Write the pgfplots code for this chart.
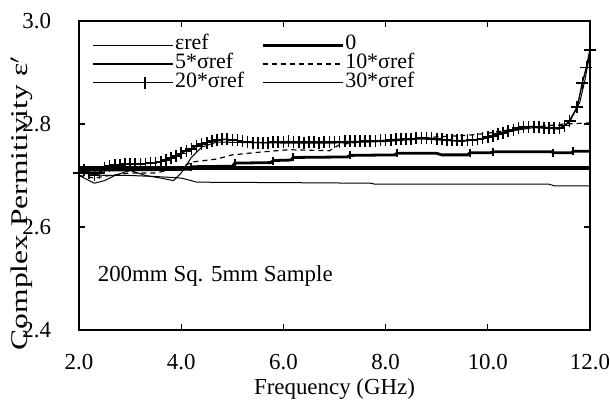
\documentclass[border=0pt]{standalone}
\usepackage{fontspec}
\setmainfont{Liberation Serif}
\usepackage{pgfplots}
\pgfplotsset{compat=1.18}
\begin{document}
\fontsize{11.5}{13}\selectfont
\begin{tikzpicture}
\begin{axis}[
  name=ax,
  scale only axis,
  width=255.5bp, height=154.5bp,
  xmin=2, xmax=12, ymin=2.4, ymax=3.0,
  xtick={2,4,6,8,10,12},
  ytick={2.4,2.6,2.8,3.0},
  tick align=inside,
  major tick length=3bp,
  minor tick num=0,
  axis line style={line width=0.8bp},
  every tick/.style={black, line width=0.6bp},
  tick label style={/pgf/number format/assume math mode=true,
    /pgf/number format/fixed, /pgf/number format/fixed zerofill,
    /pgf/number format/precision=1},
  xticklabel style={yshift=-8bp},
  yticklabel style={xshift=-10bp},
  xlabel={Frequency (GHz)},
  ylabel={Complex Permitivity ε$^{\prime}$},
  xlabel style={at={(axis description cs:0.5,-0.19)}, anchor=center},
  ylabel style={at={(axis description cs:-0.112,0.41)}, anchor=center,
    font=\fontsize{12}{14}\selectfont, xscale=1.32},
  legend columns=2,
  legend style={draw=none, fill=none, at={(axis description cs:0.012,0.965)},
    anchor=north west, font=\fontsize{11}{12}\selectfont,
    nodes={inner sep=0.4bp, anchor=west, text height=6.5bp, text depth=2bp},
    /tikz/every even column/.append style={column sep=8bp},
    row sep=0bp},
  legend image code/.code={
    \draw[#1, mark=none] (0bp,0bp) -- (40bp,0bp);
    \draw[#1, only marks] plot coordinates {(26bp,0bp)};},
]
% eref
\addplot[black, line width=0.5bp] coordinates {
  (2.0,2.705) (2.5,2.700) (3.0,2.700) (3.5,2.698) (4.0,2.695) (4.2,2.690)
  (4.3,2.687) (6.2,2.686) (7.7,2.685) (7.8,2.683) (11.2,2.683) (11.3,2.680)
  (12.0,2.680)
};
\addlegendentry{εref}
% 0
\addplot[black, line width=1.8bp] coordinates {
  (2.0,2.714) (12.0,2.714)
};
\addlegendentry{0}
% 5*sref
\addplot[black, line width=1.4bp, mark=|, mark size=2bp,
  mark indices={3,5,7,9,11,13,17,19,21,23},
  mark options={line width=1.2bp}] coordinates {
  (2.0,2.710) (4.15,2.712) (4.19,2.717) (5.0,2.718) (5.05,2.724)
  (5.75,2.725) (5.8,2.729) (6.15,2.730) (6.19,2.735) (7.25,2.736)
  (7.3,2.739) (8.18,2.740) (8.22,2.743) (9.0,2.743) (9.1,2.740)
  (9.6,2.740) (9.65,2.744) (10.05,2.744) (10.1,2.746) (11.25,2.746)
  (11.28,2.744) (11.65,2.744) (11.67,2.747) (12.0,2.747)
};
\addlegendentry{5*σref}
% 10*sref
\addplot[black, line width=0.6bp, dash pattern=on 2.5bp off 2bp] coordinates {
  (2.0,2.700) (2.3,2.695) (2.6,2.700) (3.0,2.705) (3.5,2.705) (4.0,2.715)
  (4.2,2.726) (4.7,2.732) (5.0,2.740) (5.5,2.745) (6.1,2.750) (6.9,2.748)
  (7.1,2.760) (7.5,2.765) (8.0,2.768) (8.7,2.772) (9.0,2.775) (9.6,2.778)
  (10.0,2.782) (10.5,2.790) (11.0,2.795) (11.5,2.800) (12.0,2.802)
};
\addlegendentry{10*σref}
% 20*sref
\addplot[black, line width=0.7bp, mark=+, mark size=3bp,
  mark options={line width=0.8bp}] coordinates {
  (2.0,2.705) (2.1,2.710) (2.2,2.705) (2.3,2.700) (2.4,2.705) (2.5,2.715)
  (2.6,2.718) (2.7,2.720) (2.8,2.720) (2.9,2.722) (3.0,2.722) (3.1,2.723)
  (3.2,2.722) (3.3,2.723) (3.4,2.724) (3.5,2.725) (3.6,2.727) (3.7,2.730)
  (3.8,2.734) (3.9,2.738) (4.0,2.743) (4.1,2.748) (4.2,2.752) (4.3,2.757)
  (4.4,2.761) (4.5,2.764) (4.6,2.767) (4.7,2.769) (4.8,2.770) (4.9,2.770)
  (5.0,2.769) (5.1,2.768) (5.2,2.766) (5.3,2.765) (5.4,2.764) (5.5,2.764)
  (5.6,2.764) (5.7,2.764) (5.8,2.765) (5.9,2.765) (6.0,2.765) (6.1,2.766)
  (6.2,2.765) (6.3,2.765) (6.4,2.764) (6.5,2.765) (6.6,2.765) (6.7,2.764)
  (6.8,2.765) (6.9,2.765) (7.0,2.765) (7.1,2.765) (7.2,2.766) (7.3,2.766)
  (7.4,2.766) (7.5,2.766) (7.6,2.767) (7.7,2.767) (7.8,2.767) (7.9,2.768)
  (8.0,2.768) (8.1,2.769) (8.2,2.770) (8.3,2.770) (8.4,2.771) (8.5,2.771)
  (8.6,2.772) (8.7,2.773) (8.8,2.772) (8.9,2.772) (9.0,2.771) (9.1,2.770)
  (9.2,2.769) (9.3,2.768) (9.4,2.768) (9.5,2.768) (9.6,2.768) (9.7,2.769)
  (9.8,2.770) (9.9,2.772) (10.0,2.775) (10.1,2.777) (10.2,2.780) (10.3,2.783)
  (10.4,2.786) (10.5,2.789) (10.6,2.792) (10.7,2.794) (10.8,2.795) (10.9,2.795)
  (11.0,2.794) (11.1,2.793) (11.2,2.793) (11.3,2.792) (11.4,2.792) (11.5,2.797)
  (11.6,2.806) (11.75,2.833) (11.85,2.880) (11.93,2.910) (12.0,2.944)
};
\addlegendentry{20*σref}
% 30*sref
\addplot[black, line width=0.5bp] coordinates {
  (2.0,2.700) (2.2,2.690) (2.3,2.685) (2.5,2.690) (2.7,2.700) (3.0,2.710)
  (3.3,2.700) (3.6,2.695) (3.85,2.690) (4.0,2.705) (4.2,2.735) (4.4,2.755)
  (4.7,2.765) (5.2,2.764) (6.0,2.763) (7.0,2.763) (8.0,2.766) (8.7,2.771)
  (9.5,2.766) (10.0,2.773) (10.5,2.787) (10.9,2.793) (11.4,2.790)
  (11.6,2.804) (11.8,2.842) (11.9,2.885) (12.0,2.938)
};
\addlegendentry{30*σref}
\node[anchor=west, inner sep=0pt] at (axis cs:2.36,2.505) {200mm Sq. 5mm Sample};
\end{axis}
\pgfresetboundingbox
\path[use as bounding box] ([shift={(-39.5bp,-35bp)}]ax.south west)
  rectangle ([shift={(10bp,10.5bp)}]ax.north east);
\end{tikzpicture}
\end{document}
